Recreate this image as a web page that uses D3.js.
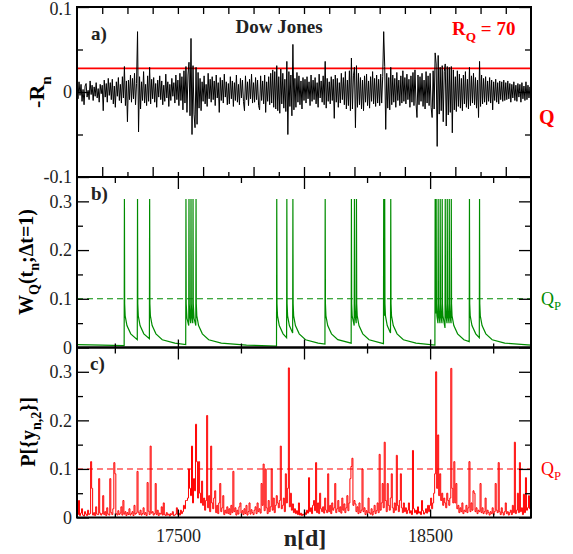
<!DOCTYPE html>
<html>
<head>
<meta charset="utf-8">
<script src="https://cdn.jsdelivr.net/npm/d3@7"></script>
<style>
body { margin: 0; background: #fff; }
svg text { font-family: "Liberation Serif", "DejaVu Serif", serif; }
</style>
</head>
<body>
<div id="chart"></div>
<script>
// days sampled every 4 days starting at n = 17100
const dayStart = 17100;
const dayStep = 4;

// a) -R_n (units of 1e-3), 25 values per 100 days
const returnsRaw = [
  5, -8, 12, -4, 9, -11, 3, -15, 7, 10, -6, 2, -9, 13, -3, 8, -10, 6, -5, 11, -7, 4, -12, 9, -2,
  8, -22, 14, -6, 10, -12, 16, -4, 11, -9, 15, -14, 7, -18, 12, -5, 17, -10, 9, -13, 18, -7, 30, -16, 13,
  -35, 14, -9, 20, -12, 16, -8, 22, -15, 10, 71, -47, 18, -20, 12, -10, 24, -13, 9, -16, 19, -11, 29, -14, 15,
  -8, 17, -12, 10, -18, 14, -6, 19, -9, 13, -15, 8, -11, 21, -7, 12, -17, 9, -10, 16, -5, 11, -13, 20, -9,
  14, -16, 22, -10, 18, -21, 25, -13, 30, -24, 20, 35, -28, 63, -50, 31, -26, -42, 29, -38, 23, -19, 16, -22, 12,
  -11, 19, -14, 9, -17, 22, -8, 15, -12, 18, -9, 13, -16, 20, -7, 11, -24, 17, -10, 14, -13, 21, -6, 12, -15,
  10, -14, 18, -8, 13, -17, 11, -10, 20, -12, 9, -15, 16, -7, 14, -11, -22, 19, -9, 12, -16, 15, -8, 21, -13,
  11, -12, 17, -9, 14, -16, -21, 19, -10, 13, -14, 20, -24, 12, -11, 18, -15, 22, -13, 26, -18, 24, -20, 31, -22,
  18, -25, 27, -14, 22, -19, 15, -23, 36, -50, 24, -17, 20, -28, 56, -21, 16, -18, 23, -12, 19, -15, 13, -20, 17,
  -10, 15, -13, 18, -8, 12, -16, 20, -11, 14, -9, 17, -14, 11, -18, 21, -7, 13, -12, 19, -15, 36, -19, 16, -11,
  12, -14, 18, -10, 15, -31, 20, -12, 16, -18, 11, -13, 22, -9, 17, -15, 24, -20, 14, -16, 25, -22, 40, -20, 19,
  29, -42, 31, -18, 22, -15, 17, -20, 14, -22, 19, -12, 21, -16, 13, -19, 18, -11, 24, -14, 16, -17, 20, -13, 15,
  -16, 21, -13, 18, 71, 30, -44, 22, -19, 17, -21, 29, -15, 20, -12, 16, -18, 23, -10, 14, -16, 19, -13, 25, -11,
  17, -14, 21, -9, 15, -18, 19, -12, 23, -16, 26, -13, -30, 20, -15, 18, -11, 22, -17, 14, -20, 24, -13, 19, -16,
  22, -18, -30, 25, -20, 46, 33, -64, 43, -26, 29, -22, 31, -35, 24, 33, -40, 30, -27, 29, -24, 30, -48, 26, -21,
  18, -23, 25, -17, 21, -19, 16, -22, 20, -14, 24, -18, 15, -20, 29, -16, 19, -13, 22, -15, 17, -19, 14, -30, 36,
  -17, 20, -14, 16, -12, 18, -15, 13, -11, 17, -13, 14, -21, 12, -10, 15, -12, 11, -14, 13, -9, 12, -11, 14, -10,
  11, -9, 13, -8, 10, -12, 9, -7, 12, -10, 8, -11, 10, -6, 9, -12, 11, -8, 7, -10, 12, -9, 8, -7, 6,
  -5
];
const thresholdQ = 0.0278;

// b) W_Q(t_n; dt=1): [n, value]
const hazardPoints = [
  [17100, 0.006], [17200, 0.005], [17287, 0.004],
  [17288, 0.305], [17289, 0.09], [17291, 0.065], [17298, 0.045], [17313, 0.028], [17339, 0.016],
  [17340, 0.305], [17341, 0.09], [17343, 0.065], [17350, 0.045], [17365, 0.028], [17387, 0.018],
  [17388, 0.305], [17389, 0.09], [17391, 0.065], [17398, 0.045], [17413, 0.028], [17438, 0.016], [17488, 0.009], [17531, 0.006],
  [17532, 0.305], [17533, 0.09], [17536, 0.06], [17543, 0.045],
  [17544, 0.305], [17545, 0.09], [17548, 0.06], [17551, 0.05],
  [17552, 0.305], [17553, 0.09], [17556, 0.06], [17559, 0.05],
  [17560, 0.305], [17561, 0.09], [17564, 0.06], [17571, 0.045],
  [17572, 0.305], [17573, 0.09], [17575, 0.065], [17582, 0.045], [17597, 0.028], [17622, 0.016], [17672, 0.009], [17772, 0.005], [17891, 0.003],
  [17892, 0.305], [17893, 0.09], [17895, 0.065], [17902, 0.045], [17917, 0.028], [17931, 0.02],
  [17932, 0.305], [17933, 0.09], [17935, 0.065], [17942, 0.045], [17955, 0.03],
  [17956, 0.305], [17957, 0.09], [17959, 0.065], [17966, 0.045], [17981, 0.028], [18006, 0.016], [18056, 0.009], [18083, 0.007],
  [18084, 0.305], [18085, 0.09], [18087, 0.065], [18094, 0.045], [18109, 0.028], [18134, 0.016], [18187, 0.009],
  [18188, 0.305], [18189, 0.09], [18191, 0.065], [18199, 0.045],
  [18200, 0.305], [18201, 0.09], [18203, 0.065], [18207, 0.05],
  [18208, 0.305], [18209, 0.09], [18211, 0.065], [18218, 0.045], [18233, 0.028], [18258, 0.016], [18315, 0.008],
  [18316, 0.305], [18317, 0.09], [18319, 0.065],
  [18320, 0.305], [18321, 0.09], [18323, 0.065], [18330, 0.045], [18343, 0.03],
  [18344, 0.305], [18345, 0.09], [18347, 0.065], [18354, 0.045], [18369, 0.028], [18394, 0.016], [18444, 0.009], [18519, 0.005],
  [18520, 0.305], [18521, 0.09], [18523, 0.07],
  [18524, 0.305], [18525, 0.09], [18527, 0.065], [18531, 0.05],
  [18532, 0.305], [18533, 0.09], [18535, 0.065], [18539, 0.05],
  [18540, 0.305], [18541, 0.09], [18543, 0.065], [18547, 0.05],
  [18548, 0.305], [18549, 0.09], [18551, 0.065], [18559, 0.04],
  [18560, 0.305], [18561, 0.09], [18563, 0.065], [18567, 0.05],
  [18568, 0.305], [18569, 0.09], [18571, 0.065], [18575, 0.05],
  [18576, 0.305], [18577, 0.09], [18579, 0.065], [18583, 0.05],
  [18584, 0.305], [18585, 0.09], [18587, 0.065], [18594, 0.045], [18609, 0.028], [18634, 0.016], [18655, 0.012],
  [18656, 0.305], [18657, 0.09], [18659, 0.065], [18666, 0.045], [18681, 0.028], [18695, 0.02],
  [18696, 0.305], [18697, 0.09], [18699, 0.065], [18706, 0.045], [18721, 0.028], [18746, 0.016], [18796, 0.009], [18900, 0.005]
];
const hazardQP = 0.1;

// c) P[{y_n,2}] (units of 1e-3), same sampling as a)
const probRaw = [
  43, 6, 35, 4, 9, 18, 5, 3, 12, 7, 4, 15, 6, 8, 115, 60, 5, 10, 4, 22, 7, 6, 80, 9, 5,
  8, 45, 6, 12, 4, 20, 7, 5, 80, 10, 6, 18, 113, 90, 8, 5, 14, 6, 9, 22, 5, 35, 7, 12, 4,
  10, 6, 18, 5, 8, 12, 4, 25, 7, 9, 95, 11, 6, 15, 5, 8, 20, 6, 10, 4, 72, 13, 6, 147, 9,
  12, 5, 8, 70, 6, 15, 4, 9, 7, 22, 5, 30, 6, 4, 10, 5, 7, 3, 8, 6, 12, 4, 5, 7, 20,
  6, 9, 5, 15, 8, 12, 25, 18, 35, 35, 40, 100, 60, 45, 147, 30, 80, 55, 192, 115, 40, 115, 50, 30, 75,
  25, 40, 15, 35, 210, 20, 45, 12, 147, 30, 18, 40, 55, 10, 25, 8, 30, 70, 12, 20, 45, 6, 15, 9, 22,
  8, 18, 6, 25, 10, 95, 12, 20, 5, 15, 7, 22, 30, 9, 14, 6, 18, 8, 25, 5, 12, 30, 7, 16, 10,
  6, 15, 22, 8, 30, 12, 18, 9, 70, 25, 110, 14, 100, 20, 8, 35, 12, 22, 100, 15, 40, 10, 25, 45, 30,
  20, 35, 147, 18, 25, 40, 12, 90, 30, 60, 308, 22, 50, 15, 28, 10, 18, 8, 14, 6, 30, 5, 9, 4, 7,
  5, 10, 6, 15, 9, 82, 12, 20, 8, 25, 35, 14, 113, 10, 30, 8, 50, 18, 12, 22, 9, 40, 15, 10, 90,
  12, 25, 8, 30, 15, 20, 70, 10, 18, 35, 12, 22, 9, 40, 15, 28, 10, 20, 45, 14, 30, 80, 105, 122, 25,
  35, 28, 12, 22, 8, 30, 10, 15, 100, 12, 20, 6, 14, 9, 40, 10, 7, 18, 5, 12, 25, 8, 14, 30, 10,
  130, 15, 30, 70, 20, 155, 35, 12, 70, 25, 15, 40, 90, 20, 10, 30, 15, 128, 25, 12, 35, 90, 20, 10, 30,
  12, 20, 8, 15, 30, 9, 14, 6, 138, 18, 10, 15, 7, 22, 9, 12, 6, 35, 14, 7, 10, 18, 9, 25, 12,
  25, 40, 18, 30, 50, 90, 300, 60, 170, 45, 90, 35, 50, 25, 40, 30, 20, 50, 35, 25, 40, 307, 60, 30, 115,
  30, 70, 18, 25, 10, 20, 12, 30, 8, 15, 12, 25, 10, 20, 115, 12, 30, 15, 55, 50, 12, 20, 8, 15, 12,
  70, 10, 20, 8, 12, 40, 7, 15, 10, 5, 12, 8, 20, 6, 12, 70, 15, 10, 113, 12, 6, 20, 10, 5, 12,
  30, 8, 12, 5, 10, 15, 6, 25, 10, 155, 8, 15, 50, 10, 113, 12, 20, 6, 48, 10, 82, 15, 20, 45, 18,
  15
];
const probQP = 0.1;

// axis ticks
const xLabelTicks = [17500, 18500];
const yTicksA = [-0.1, 0, 0.1];
const yTicksBC = [0, 0.1, 0.2, 0.3];

const returns = returnsRaw.map((v, i) => ({ n: dayStart + i * dayStep, v: v / 1000 }));
const probs = probRaw.map((v, i) => ({ n: dayStart + i * dayStep, v: v / 1000 }));
const hazard = hazardPoints.map(d => ({ n: d[0], v: d[1] }));

const width = 573, height = 554;
const left = 77, right = 531;
const tops = [7, 177, 347.5, 517.5];
const green = "#008c00";
const red = "#ff0000";

const svg = d3.select("#chart").append("svg")
    .attr("width", width)
    .attr("height", height);

const x = d3.scaleLinear().domain([17100, 18900]).range([left, right]);
const yA = d3.scaleLinear().domain([-0.1, 0.1]).range([tops[1], tops[0]]);
const yB = d3.scaleLinear().domain([0, 0.35]).range([tops[2], tops[1]]);
const yC = d3.scaleLinear().domain([0, 0.35]).range([tops[3], tops[2]]);

// clip per panel
[0, 1, 2].forEach(i => {
    svg.append("clipPath").attr("id", "clip" + i)
        .append("rect")
        .attr("x", left).attr("y", tops[i])
        .attr("width", right - left).attr("height", tops[i + 1] - tops[i]);
});

function tickAxis(axis, tx, ty, values, size, fmt) {
    const g = svg.append("g")
        .attr("transform", `translate(${tx},${ty})`)
        .call(axis.tickValues(values).tickSize(size).tickSizeOuter(0).tickFormat(fmt || ""));
    g.select(".domain").remove();
    g.attr("font-family", null).attr("font-size", 18);
    g.selectAll("line").attr("stroke", "#000").attr("stroke-width", 1.3);
    g.selectAll("text").attr("fill", "#222");
    return g;
}

const yFmt = d => d === 0 ? "0" : String(d);

// ---------- panel a ----------
const gA = svg.append("g").attr("clip-path", "url(#clip0)");
gA.append("line")
    .attr("x1", left).attr("x2", right)
    .attr("y1", yA(thresholdQ)).attr("y2", yA(thresholdQ))
    .attr("stroke", red).attr("stroke-width", 1.6);
gA.append("path")
    .datum(returns)
    .attr("fill", "none")
    .attr("stroke", "#000")
    .attr("stroke-width", 1)
    .attr("d", d3.line().x(d => x(d.n)).y(d => yA(d.v)));

// ---------- panel b ----------
const gB = svg.append("g").attr("clip-path", "url(#clip1)");
gB.append("line")
    .attr("x1", left).attr("x2", right)
    .attr("y1", yB(hazardQP)).attr("y2", yB(hazardQP))
    .attr("stroke", green).attr("stroke-width", 1.1)
    .attr("stroke-dasharray", "6,4");
gB.append("path")
    .datum(hazard)
    .attr("fill", "none")
    .attr("stroke", green)
    .attr("stroke-width", 1.2)
    .attr("d", d3.line().x(d => x(d.n)).y(d => yB(d.v)));

// ---------- panel c ----------
const gC = svg.append("g").attr("clip-path", "url(#clip2)");
gC.append("line")
    .attr("x1", left).attr("x2", right)
    .attr("y1", yC(probQP)).attr("y2", yC(probQP))
    .attr("stroke", red).attr("stroke-width", 1.1)
    .attr("stroke-dasharray", "6,4");
gC.append("path")
    .datum(probs)
    .attr("fill", "none")
    .attr("stroke", red)
    .attr("stroke-width", 1)
    .attr("d", d3.line().curve(d3.curveStep).x(d => x(d.n)).y(d => yC(d.v)));

// ---------- ticks ----------
const every100 = d3.range(17200, 18900, 100);
const major200 = every100.filter(d => d % 200 === 0);
const minor100 = every100.filter(d => d % 200 !== 0);
const major500 = [17500, 18000, 18500];
const minor250 = [17250, 17750, 18250, 18750];

// panel a
tickAxis(d3.axisBottom(x), 0, tops[0], every100, 7);
tickAxis(d3.axisTop(x), 0, tops[1], major200, 10);
tickAxis(d3.axisTop(x), 0, tops[1], minor100, 5);
tickAxis(d3.axisLeft(yA), left, 0, yTicksA, -12, yFmt).selectAll("text")
    .attr("x", -5)
    .attr("dy", d => d === 0.1 ? "0.42em" : "0.32em");
tickAxis(d3.axisRight(yA), left, 0, [-0.05, 0.05], 6);
tickAxis(d3.axisLeft(yA), right, 0, yTicksA, 12);
tickAxis(d3.axisLeft(yA), right, 0, [-0.05, 0.05], 6);

// panels b and c
[[yB, 1], [yC, 2]].forEach(([ys, i]) => {
    tickAxis(d3.axisBottom(x), 0, tops[i], major500, 12);
    tickAxis(d3.axisBottom(x), 0, tops[i], minor250, 6);
    tickAxis(d3.axisLeft(ys), left, 0, yTicksBC, -12, yFmt).selectAll("text").attr("x", -5);
    tickAxis(d3.axisRight(ys), left, 0, [0.05, 0.15, 0.25], 6);
    tickAxis(d3.axisLeft(ys), right, 0, yTicksBC, 12);
    tickAxis(d3.axisLeft(ys), right, 0, [0.05, 0.15, 0.25], 6);
});
tickAxis(d3.axisTop(x), 0, tops[2], major500, 8);
tickAxis(d3.axisTop(x), 0, tops[2], minor250, 4);
tickAxis(d3.axisTop(x), 0, tops[3], major500, 8);
tickAxis(d3.axisTop(x), 0, tops[3], minor250, 4);
// bottom labels
tickAxis(d3.axisBottom(x), 0, tops[3], xLabelTicks, 0, d => String(d))
    .selectAll("text").attr("y", 12);

// frames
[0, 1, 2].forEach(i => {
    svg.append("rect")
        .attr("x", left).attr("y", tops[i])
        .attr("width", right - left).attr("height", tops[i + 1] - tops[i])
        .attr("fill", "none")
        .attr("stroke", "#000")
        .attr("stroke-width", 2);
});

// ---------- texts ----------
function label(xp, yp, size, color, bold, parts, rotate) {
    const t = svg.append("text")
        .attr("font-size", size)
        .attr("fill", color)
        .attr("font-weight", bold ? "bold" : "normal");
    if (rotate) {
        t.attr("transform", `translate(${xp},${yp}) rotate(-90)`).attr("text-anchor", "middle");
    } else {
        t.attr("x", xp).attr("y", yp);
    }
    let shift = 0;
    parts.forEach(p => {
        const sub = typeof p !== "string";
        const target = sub ? size * 0.3 : 0;
        const s = t.append("tspan").text(sub ? p.sub : p).attr("dy", target - shift);
        if (sub) s.attr("font-size", size * 0.7);
        shift = target;
    });
    return t;
}

label(44, 92, 22, "#000", true, ["-R", { sub: "n" }], true);
label(33, 262, 20, "#000", true, ["W", { sub: "Q" }, "(t", { sub: "n" }, ";\u0394t=1)"], true);
label(35, 432, 20, "#000", true, ["P[{y", { sub: "n,2" }, "}]"], true);

svg.append("text").attr("x", 91).attr("y", 40).attr("font-size", 19).attr("font-weight", "bold").attr("fill", "#222").text("a)");
svg.append("text").attr("x", 91).attr("y", 200).attr("font-size", 19).attr("font-weight", "bold").attr("fill", "#222").text("b)");
svg.append("text").attr("x", 90).attr("y", 370).attr("font-size", 19).attr("font-weight", "bold").attr("fill", "#222").text("c)");

svg.append("text").attr("x", 279).attr("y", 33).attr("text-anchor", "middle")
    .attr("font-size", 19).attr("font-weight", "bold").attr("fill", "#222").text("Dow Jones");

label(452, 35, 19, red, true, ["R", { sub: "Q" }, " = 70"]);
svg.append("text").attr("x", 539).attr("y", 124).attr("font-size", 20).attr("font-weight", "bold").attr("fill", red).text("Q");
label(541, yB(hazardQP) + 6, 18, green, false, ["Q", { sub: "P" }]);
label(541, yC(probQP) + 6, 18, red, false, ["Q", { sub: "P" }]);

svg.append("text").attr("x", 305).attr("y", 546).attr("text-anchor", "middle")
    .attr("font-size", 24).attr("font-weight", "bold").attr("fill", "#222").text("n[d]");
</script>
</body>
</html>
